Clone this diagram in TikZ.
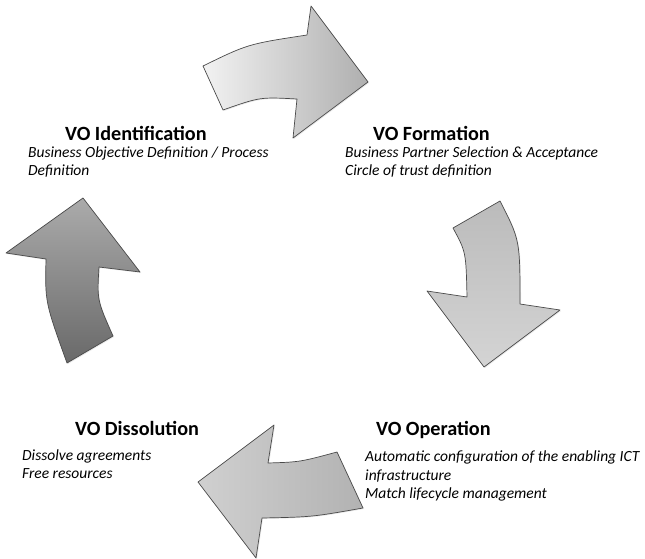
\documentclass[tikz,border=0pt]{standalone}
\usepackage{fontspec}
\setmainfont{Carlito}
\usetikzlibrary{shadows}
\definecolor{arrowedge}{HTML}{4A4A4A}
\definecolor{formlight}{HTML}{F2F2F2}
\definecolor{formdark}{HTML}{AFAFAF}
\definecolor{operlight}{HTML}{D4D4D4}
\definecolor{operdark}{HTML}{BBBBBB}
\definecolor{disslight}{HTML}{D0D0D0}
\definecolor{dissdark}{HTML}{B2B2B2}
\definecolor{identlight}{HTML}{ABABAB}
\definecolor{identdark}{HTML}{696969}

\begin{document}
\begin{tikzpicture}[x=1pt,y=-1pt,
  phase/.style={anchor=base west,inner sep=0pt,
    font=\fontsize{20.2}{24}\selectfont\bfseries},
  task/.style={anchor=north west,inner sep=0pt,align=left,
    font=\fontsize{15.5}{18.3}\selectfont\itshape},
  cyclearrow/.style={draw=arrowedge,line width=0.7pt,line join=round,
    drop shadow={opacity=0.18,shadow xshift=1pt,shadow yshift=-1pt}},
]
  \useasboundingbox (0,0) rectangle (645,559);
  % phase titles
  \node[phase] (ident) at (65,141) {VO Identification};
  \node[phase] (form) at (373,141) {VO Formation};
  \node[phase] (diss) at (75,435.5) {VO Dissolution};
  \node[phase] (oper) at (376,435.5) {VO Operation};
  % phase tasks
  \node[task] (identtasks) at (28,144) {\strut Business Objective Definition / Process\\Definition};
  \node[task] (formtasks) at (345,144) {\strut Business Partner Selection \& Acceptance\\Circle of trust definition};
  \node[task] (disstasks) at (22,447.3) {\strut Dissolve agreements\\Free resources};
  \node[task] (opertasks) at (365,448.8) {\strut Automatic configuration of the enabling ICT\\infrastructure\\Match lifecycle management};
  % curved arrows of the cycle
  \path[cyclearrow,left color=formlight,right color=formdark]
    (203,66) .. controls (248,44) .. (307,35) -- (311,6) -- (368,82)
    -- (293,138) -- (297,99) .. controls (260,97) .. (223,110) -- cycle;
  \path[cyclearrow,top color=operdark,bottom color=operlight]
    (453,228) .. controls (466,252) .. (467,297) -- (427,291) -- (484,367)
    -- (560,310) -- (520,304) .. controls (520,240) .. (500,201) -- cycle;
  \path[cyclearrow,left color=disslight,right color=dissdark]
    (337,452) .. controls (300,462) .. (268,463) -- (274,425) -- (198,482)
    -- (256,558) -- (262,518) .. controls (312,517) .. (363,508) -- cycle;
  \path[cyclearrow,top color=identlight,bottom color=identdark]
    (83,198) -- (140,272) -- (99,267) .. controls (97,300) .. (113,336)
    -- (67,363) .. controls (45,302) .. (46,259) -- (6,253) -- cycle;
\end{tikzpicture}
\end{document}
